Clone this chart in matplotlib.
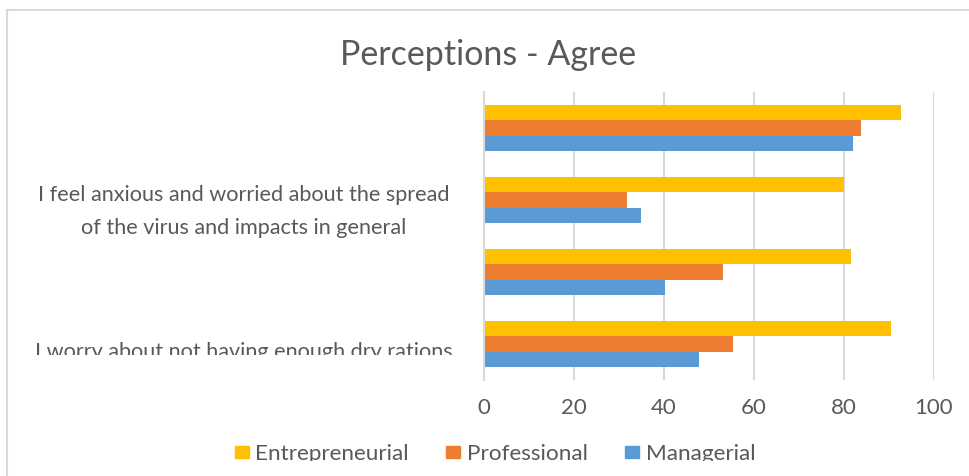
import matplotlib
matplotlib.use("Agg")
import matplotlib.pyplot as plt
from matplotlib.patches import Rectangle, Patch
from matplotlib.transforms import Bbox, TransformedBbox, blended_transform_factory, ScaledTranslation

# data (bottom to top, as drawn)
categories = ["I worry about not having enough dry rations", "",
              "I feel anxious and worried about the spread\nof the virus and impacts in general", ""]
managerial = [47.8, 40.2, 34.9, 82.1]
professional = [55.4, 53.1, 31.8, 83.8]
entrepreneurial = [90.5, 81.6, 80.0, 92.7]
xticks = [0, 20, 40, 60, 80, 100]

YEL, ORA, BLU, TXT, GRID = "#FFC000", "#ED7D31", "#5B9BD5", "#595959", "#D9D9D9"
plt.rcParams.update({"font.family": ["Lato", "DejaVu Sans"]})

W, H = 969, 476
fig = plt.figure(figsize=(W / 100, H / 100), dpi=100)
fig.patch.set_facecolor("white")

def px_clip(y_px):
    # clip region: everything above pixel row y_px
    return TransformedBbox(Bbox([[0, 1 - y_px / H], [1, 1]]), fig.transFigure)

# chart border (runs off the right and bottom edges)
fig.add_artist(Rectangle((7 / W, -0.2), 1.2, 1.2 - 10 / H, transform=fig.transFigure,
                         fill=False, ec=GRID, lw=1.5))

ax = fig.add_axes([484 / W, 1 - 380 / H, (933.7 - 484) / W, 288 / H])
Y = list(range(len(categories)))
h = 0.213
ax.barh([y - h for y in Y], managerial, h, color=BLU, label="Managerial")
ax.barh(Y, professional, h, color=ORA, label="Professional")
ax.barh([y + h for y in Y], entrepreneurial, h, color=YEL, label="Entrepreneurial")

ax.set_xlim(0, 100); ax.set_ylim(-0.5, 3.5)
ax.set_xticks(xticks)
ax.set_yticks(Y, [""] * len(Y))
ax.grid(True, axis="x", color=GRID, lw=1.5); ax.set_axisbelow(True)
for s in ("top", "right", "bottom"):
    ax.spines[s].set_visible(False)
ax.spines["left"].set_color(GRID); ax.spines["left"].set_linewidth(1.5)
ax.tick_params(axis="x", length=0, pad=13, labelsize=16, labelcolor=TXT)
ax.tick_params(axis="y", length=0)

# category labels, centred in the label area like Excel does (last-line baseline)
lab_tr = blended_transform_factory(fig.transFigure, ax.transData)
base_off = {0: -14, 2: -34}  # px, category centre -> last baseline
for y, lab in zip(Y, categories):
    if not lab:
        continue
    t = fig.text(244 / W, y, lab, ha="center", va="baseline", multialignment="center",
                 fontsize=15.6, color=TXT, linespacing=1.83,
                 transform=lab_tr + ScaledTranslation(0, base_off[y] / 100, fig.dpi_scale_trans))
    if y == 0:  # Excel clips the lowest label
        t.set_clip_on(True); t.set_clip_box(px_clip(355))

fig.text(488.5 / W, 1 - 65 / H, "Perceptions - Agree", ha="center", va="baseline",
         fontsize=24.5, color=TXT)

handles = [Patch(color=YEL, label="Entrepreneurial"), Patch(color=ORA, label="Professional"),
           Patch(color=BLU, label="Managerial")]
leg = fig.legend(handles=handles, loc="center", bbox_to_anchor=(495 / W, 1 - 454 / H), ncol=3,
                 frameon=False, fontsize=16.2, labelcolor=TXT, handlelength=0.62,
                 handleheight=0.44, handletextpad=0.3, columnspacing=1.65)
for t in leg.get_texts():
    t.set_clip_on(True); t.set_clip_box(px_clip(461))

fig.savefig("out.png", dpi=100)
